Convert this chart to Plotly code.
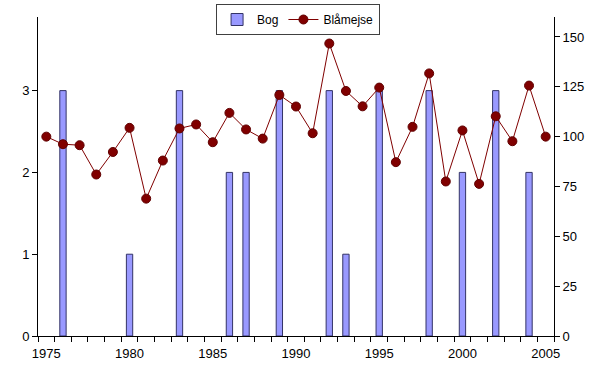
import plotly.graph_objects as go

years = list(range(1975, 2006))
bog_years = [1976, 1980, 1983, 1986, 1987, 1989, 1992, 1993, 1995, 1998, 2000, 2002, 2004]
bog_values = [3, 1, 3, 2, 2, 3, 3, 1, 3, 3, 2, 3, 2]
blamejse = [100, 96.2, 95.7, 81.0, 92.3, 104.4, 68.9, 88.0, 104.1, 106.1, 97.2, 111.9, 103.6, 99.0,
            120.9, 115.1, 101.7, 146.7, 122.9, 115.2, 124.6, 87.2, 104.9, 131.7, 77.5, 103.1,
            76.3, 110.2, 97.7, 125.6, 100]
x_labels = [1975, 1980, 1985, 1990, 1995, 2000, 2005]
left_ticks = [0, 1, 2, 3]
right_ticks = [0, 25, 50, 75, 100, 125, 150]

fig = go.Figure()
fig.add_trace(go.Bar(
    x=bog_years, y=bog_values, name="Bog", width=0.38,
    marker=dict(color="#9999FF", line=dict(color="#333366", width=1)),
    yaxis="y"))
fig.add_trace(go.Scatter(
    x=years, y=blamejse, name="Blåmejse", mode="lines+markers",
    line=dict(color="#800000", width=1),
    marker=dict(color="#800000", size=9, line=dict(color="#600000", width=1)),
    yaxis="y2"))

font = dict(family="Liberation Sans, Arial, sans-serif", size=13, color="black")
fig.update_layout(
    width=600, height=374,
    margin=dict(l=38, r=46, t=17, b=38, autoexpand=False),
    paper_bgcolor="white", plot_bgcolor="white",
    font=font,
    showlegend=True,
    legend=dict(orientation="h", x=0.504, xanchor="center",
                yref="container", y=1 - 4 / 374, yanchor="top",
                bordercolor="#404040", borderwidth=1, bgcolor="white",
                font=dict(family="Liberation Sans, Arial, sans-serif", size=12, color="black"),
                itemwidth=30, tracegroupgap=0),
    xaxis=dict(range=[1974.5, 2005.5], tickmode="array", tickvals=x_labels,
               ticktext=[str(v) for v in x_labels], automargin=False,
               ticks="outside", ticklen=5, tickcolor="rgba(0,0,0,0)",
               showline=True, linecolor="black", linewidth=1, showgrid=False, zeroline=False,
               minor=dict(tickmode="linear", tick0=1974.5, dtick=1, ticks="outside",
                          ticklen=5, tickcolor="black", showgrid=False)),
    yaxis=dict(range=[0, 3.9], tickmode="array", tickvals=left_ticks, automargin=False,
               ticks="outside", ticklen=5, tickcolor="black",
               showline=True, linecolor="black", linewidth=1, showgrid=False, zeroline=False),
    yaxis2=dict(range=[0, 160], tickmode="array", tickvals=right_ticks, automargin=False,
                overlaying="y", side="right",
                ticks="outside", ticklen=5, tickcolor="black",
                showline=True, linecolor="black", linewidth=1, showgrid=False, zeroline=False),
)

fig.write_html("out.html", config={"displayModeBar": False},
               post_script="document.body.style.margin='0';")
